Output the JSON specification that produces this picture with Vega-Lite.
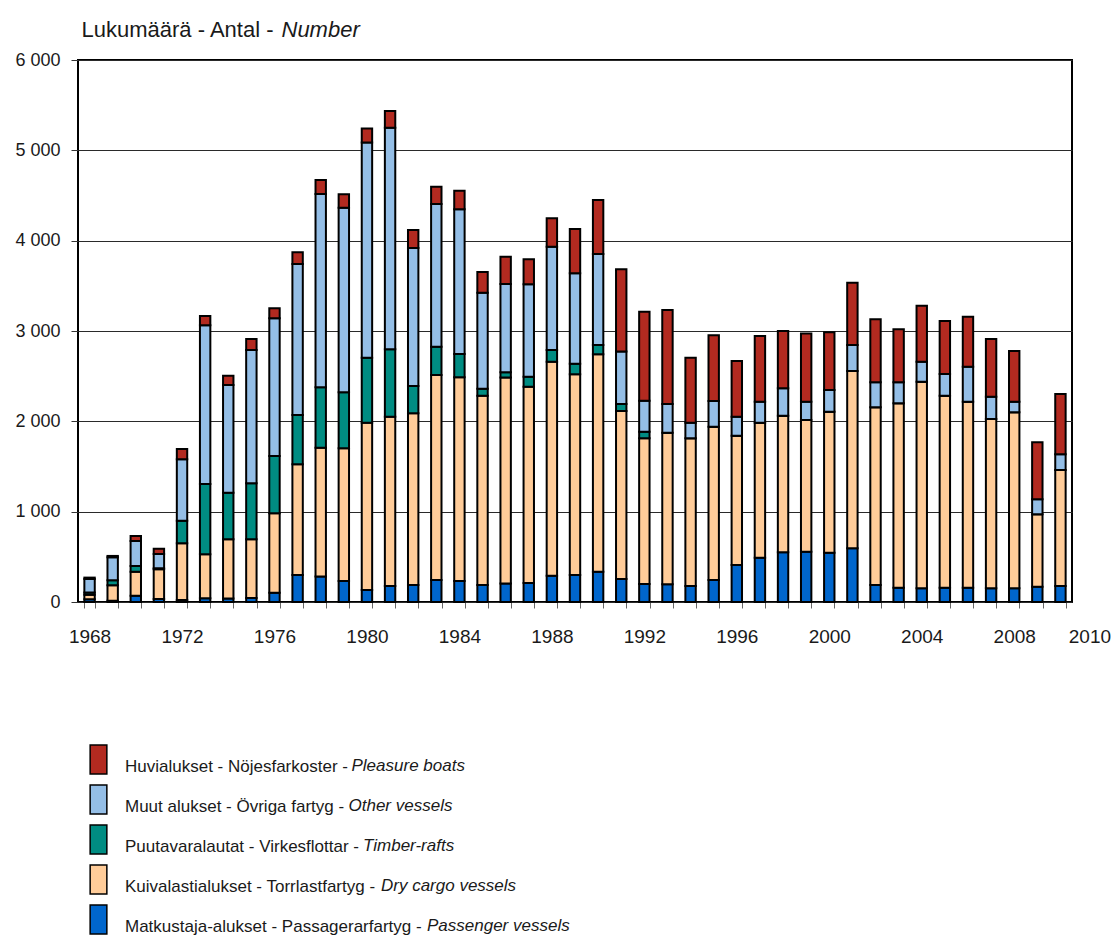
{
  "$schema": "https://vega.github.io/schema/vega-lite/v6.json",
  "width": 994,
  "height": 542,
  "autosize": {"type": "none"},
  "padding": {"left": 78, "top": 60, "right": 45, "bottom": 339},
  "background": "white",
  "config": {
    "font": "Liberation Sans",
    "view": {"fill": "#FFFFCC", "stroke": "black", "strokeWidth": 2}
  },
  "datasets": {
    "main": [
      {"year": 1968, "p": 30, "d": 50, "t": 25, "o": 150, "h": 15},
      {"year": 1969, "p": 15, "d": 170, "t": 55, "o": 255, "h": 15},
      {"year": 1970, "p": 70, "d": 266, "t": 63, "o": 276, "h": 56},
      {"year": 1971, "p": 33, "d": 330, "t": 10, "o": 158, "h": 59},
      {"year": 1972, "p": 22, "d": 628, "t": 250, "o": 679, "h": 115},
      {"year": 1973, "p": 41, "d": 487, "t": 778, "o": 1757, "h": 103},
      {"year": 1974, "p": 40, "d": 654, "t": 516, "o": 1192, "h": 103},
      {"year": 1975, "p": 45, "d": 649, "t": 620, "o": 1476, "h": 121},
      {"year": 1976, "p": 103, "d": 879, "t": 634, "o": 1524, "h": 111},
      {"year": 1977, "p": 299, "d": 1225, "t": 546, "o": 1672, "h": 129},
      {"year": 1978, "p": 281, "d": 1427, "t": 669, "o": 2140, "h": 154},
      {"year": 1979, "p": 232, "d": 1469, "t": 620, "o": 2044, "h": 148},
      {"year": 1980, "p": 133, "d": 1852, "t": 720, "o": 2383, "h": 155},
      {"year": 1981, "p": 177, "d": 1874, "t": 746, "o": 2454, "h": 184},
      {"year": 1982, "p": 188, "d": 1901, "t": 302, "o": 1528, "h": 199},
      {"year": 1983, "p": 244, "d": 2269, "t": 313, "o": 1580, "h": 192},
      {"year": 1984, "p": 232, "d": 2255, "t": 258, "o": 1602, "h": 206},
      {"year": 1985, "p": 188, "d": 2096, "t": 78, "o": 1062, "h": 229},
      {"year": 1986, "p": 205, "d": 2279, "t": 59, "o": 977, "h": 303},
      {"year": 1987, "p": 210, "d": 2174, "t": 110, "o": 1023, "h": 276},
      {"year": 1988, "p": 290, "d": 2370, "t": 130, "o": 1143, "h": 314},
      {"year": 1989, "p": 300, "d": 2221, "t": 117, "o": 1001, "h": 490},
      {"year": 1990, "p": 336, "d": 2406, "t": 103, "o": 1007, "h": 598},
      {"year": 1991, "p": 255, "d": 1859, "t": 78, "o": 580, "h": 911},
      {"year": 1992, "p": 199, "d": 1613, "t": 74, "o": 342, "h": 986},
      {"year": 1993, "p": 196, "d": 1678, "t": 0, "o": 318, "h": 1040},
      {"year": 1994, "p": 177, "d": 1635, "t": 0, "o": 173, "h": 720},
      {"year": 1995, "p": 244, "d": 1697, "t": 0, "o": 284, "h": 727},
      {"year": 1996, "p": 410, "d": 1431, "t": 0, "o": 211, "h": 616},
      {"year": 1997, "p": 491, "d": 1494, "t": 0, "o": 233, "h": 727},
      {"year": 1998, "p": 550, "d": 1513, "t": 0, "o": 303, "h": 634},
      {"year": 1999, "p": 557, "d": 1458, "t": 0, "o": 203, "h": 753},
      {"year": 2000, "p": 546, "d": 1561, "t": 0, "o": 240, "h": 638},
      {"year": 2001, "p": 594, "d": 1963, "t": 0, "o": 288, "h": 690},
      {"year": 2002, "p": 188, "d": 1967, "t": 0, "o": 277, "h": 697},
      {"year": 2003, "p": 159, "d": 2041, "t": 0, "o": 232, "h": 587},
      {"year": 2004, "p": 151, "d": 2288, "t": 0, "o": 221, "h": 620},
      {"year": 2005, "p": 159, "d": 2125, "t": 0, "o": 240, "h": 587},
      {"year": 2006, "p": 159, "d": 2059, "t": 0, "o": 387, "h": 553},
      {"year": 2007, "p": 151, "d": 1875, "t": 0, "o": 247, "h": 638},
      {"year": 2008, "p": 151, "d": 1949, "t": 0, "o": 118, "h": 560},
      {"year": 2009, "p": 170, "d": 801, "t": 0, "o": 166, "h": 631},
      {"year": 2010, "p": 177, "d": 1284, "t": 0, "o": 174, "h": 668}
    ],
    "leg": [
      {"k": "h", "en": "Pleasure boats"},
      {"k": "o", "en": "Other vessels"},
      {"k": "t", "en": "Timber-rafts"},
      {"k": "d", "en": "Dry cargo vessels"},
      {"k": "p", "en": "Passenger vessels"}
    ]
  },
  "layer": [
    {
      "data": {"name": "main"},
      "transform": [
        {"fold": ["p", "d", "t", "o", "h"], "as": ["key", "value"]},
        {"calculate": "indexof(['p','d','t','o','h'], datum.key)", "as": "ord"}
      ],
      "mark": {"type": "bar", "stroke": "black", "strokeWidth": 2},
      "encoding": {
        "x": {
          "field": "year",
          "type": "ordinal",
          "scale": {"paddingInner": 0.55, "paddingOuter": 0.275},
          "axis": {
            "title": null,
            "domain": false,
            "grid": false,
            "labelAngle": 0,
            "values": [1968,1969,1970,1971,1972,1973,1974,1975,1976,1977,1978,1979,1980,1981,1982,1983,1984,1985,1986,1987,1988,1989,1990,1991,1992,1993,1994,1995,1996,1997,1998,1999,2000,2001,2002,2003,2004,2005,2006,2007,2008,2009,2010],
            "labelExpr": "((datum.value - 1968) % 4 == 0 || datum.value == 2010) ? datum.label : ''",
            "labelOverlap": false,
            "labelOffset": {"condition": {"test": "datum.value == 2010", "value": 29}, "value": 0},
            "tickBand": "extent",
            "tickSize": 6,
            "tickColor": "#666666",
            "tickWidth": 1,
            "labelFontSize": 19,
            "labelColor": "#1a1a1a",
            "labelPadding": 19
          }
        },
        "y": {
          "field": "value",
          "type": "quantitative",
          "stack": "zero",
          "scale": {"domain": [0, 6000], "nice": false},
          "axis": {
            "orient": "left",
            "values": [0, 1000, 2000, 3000, 4000, 5000, 6000],
            "labelExpr": "replace(format(datum.value, ','), ',', ' ')",
            "domain": false,
            "grid": true,
            "gridColor": "#2a2a2a",
            "gridWidth": 1,
            "tickSize": 7,
            "tickColor": "#333333",
            "labelPadding": 11,
            "labelFontSize": 18,
            "labelColor": "#1a1a1a",
            "title": "Lukumäärä - Antal - ",
            "titleFontSize": 22,
            "titleFontWeight": "normal",
            "titleColor": "#1a1a1a",
            "titleAngle": 0,
            "titleAlign": "left",
            "titleBaseline": "alphabetic",
            "titleX": 3,
            "titleY": -24
          }
        },
        "color": {
          "field": "key",
          "type": "nominal",
          "scale": {
            "domain": ["h", "o", "t", "d", "p"],
            "range": ["#B22A20", "#94BEE6", "#008C82", "#FFCC99", "#0066CC"]
          },
          "legend": {
            "orient": "none",
            "legendX": 5,
            "legendY": 684,
            "direction": "vertical",
            "title": null,
            "padding": 0,
            "symbolType": "M-0.576,-1H0.576V1H-0.576Z",
            "symbolSize": 841,
            "symbolStrokeColor": "black",
            "symbolStrokeWidth": 1.5,
            "symbolOpacity": 1,
            "labelOffset": 11,
            "rowPadding": 5,
            "labelLimit": 0,
            "labelFontSize": 17,
            "labelColor": "#1a1a1a",
            "labelExpr": "{'h': 'Huvialukset - Nöjesfarkoster -', 'o': 'Muut alukset - Övriga fartyg -', 't': 'Puutavaralautat - Virkesflottar -', 'd': 'Kuivalastialukset - Torrlastfartyg -', 'p': 'Matkustaja-alukset - Passagerarfartyg -'}[datum.value]",
            "encode": {"labels": {"update": {"dy": {"value": 7}}}}
          }
        },
        "order": {"field": "ord", "type": "quantitative", "sort": "ascending"}
      }
    },
    {
      "data": {"name": "main"},
      "transform": [
        {"fold": ["p", "d", "t", "o", "h"], "as": ["key", "value"]}
      ],
      "mark": {"type": "bar", "opacity": 0},
      "encoding": {
        "x": {"field": "year", "type": "ordinal"},
        "y": {
          "field": "value",
          "type": "quantitative",
          "stack": null,
          "scale": {"domain": [0, 6000], "nice": false},
          "axis": {
            "orient": "right",
            "labels": false,
            "ticks": false,
            "domain": false,
            "grid": false,
            "title": "Number",
            "titleFontSize": 22,
            "titleFontWeight": "normal",
            "titleFontStyle": "italic",
            "titleColor": "#1a1a1a",
            "titleAngle": 0,
            "titleAlign": "left",
            "titleBaseline": "alphabetic",
            "titleX": -791,
            "titleY": -24
          }
        }
      }
    },
    {
      "data": {"name": "leg"},
      "transform": [{"filter": "datum.k == 'h'"}],
      "mark": {"type": "point", "opacity": 0, "size": 0, "strokeWidth": 0},
      "encoding": {
        "opacity": {
          "field": "en", "type": "nominal", "scale": {"range": [0]},
          "legend": {"orient": "none", "legendX": 233.5, "legendY": 691, "title": null, "padding": 0,
            "symbolType": "M-0.576,-1H0.576V1H-0.576Z", "symbolSize": 841, "symbolOpacity": 0, "symbolStrokeWidth": 0,
            "labelOffset": 11, "labelLimit": 0, "labelFontSize": 17, "labelFontStyle": "italic", "labelColor": "#1a1a1a"}
        }
      }
    },
    {
      "data": {"name": "leg"},
      "transform": [{"filter": "datum.k == 'o'"}],
      "mark": {"type": "point", "opacity": 0, "size": 0, "strokeWidth": 0},
      "encoding": {
        "stroke": {
          "field": "en", "type": "nominal", "scale": {"range": ["transparent"]},
          "legend": {"orient": "none", "legendX": 230.5, "legendY": 731, "title": null, "padding": 0,
            "symbolType": "M-0.576,-1H0.576V1H-0.576Z", "symbolSize": 841, "symbolOpacity": 0, "symbolStrokeWidth": 0,
            "labelOffset": 11, "labelLimit": 0, "labelFontSize": 17, "labelFontStyle": "italic", "labelColor": "#1a1a1a"}
        }
      }
    },
    {
      "data": {"name": "leg"},
      "transform": [{"filter": "datum.k == 't'"}],
      "mark": {"type": "point", "opacity": 0, "size": 0, "strokeWidth": 0},
      "encoding": {
        "fill": {
          "field": "en", "type": "nominal", "scale": {"range": ["transparent"]},
          "legend": {"orient": "none", "legendX": 245, "legendY": 771, "title": null, "padding": 0,
            "symbolType": "M-0.576,-1H0.576V1H-0.576Z", "symbolSize": 841, "symbolOpacity": 0, "symbolStrokeWidth": 0,
            "labelOffset": 11, "labelLimit": 0, "labelFontSize": 17, "labelFontStyle": "italic", "labelColor": "#1a1a1a"}
        }
      }
    },
    {
      "data": {"name": "leg"},
      "transform": [{"filter": "datum.k == 'd'"}],
      "mark": {"type": "point", "opacity": 0, "size": 0, "strokeWidth": 0},
      "encoding": {
        "shape": {
          "field": "en", "type": "nominal", "scale": {"range": ["M-0.576,-1H0.576V1H-0.576Z"]},
          "legend": {"orient": "none", "legendX": 263, "legendY": 811, "title": null, "padding": 0,
            "symbolSize": 841, "symbolOpacity": 0, "symbolStrokeWidth": 0,
            "labelOffset": 11, "labelLimit": 0, "labelFontSize": 17, "labelFontStyle": "italic", "labelColor": "#1a1a1a"}
        }
      }
    },
    {
      "data": {"name": "leg"},
      "transform": [{"filter": "datum.k == 'p'"}],
      "mark": {"type": "point", "opacity": 0, "size": 0, "strokeWidth": 0},
      "encoding": {
        "strokeDash": {
          "field": "en", "type": "nominal", "scale": {"range": [[1, 0]]},
          "legend": {"orient": "none", "legendX": 309, "legendY": 851, "title": null, "padding": 0,
            "symbolType": "M-0.576,-1H0.576V1H-0.576Z", "symbolSize": 841, "symbolOpacity": 0, "symbolStrokeWidth": 0,
            "labelOffset": 11, "labelLimit": 0, "labelFontSize": 17, "labelFontStyle": "italic", "labelColor": "#1a1a1a"}
        }
      }
    }
  ],
  "resolve": {"axis": {"y": "independent"}}
}
